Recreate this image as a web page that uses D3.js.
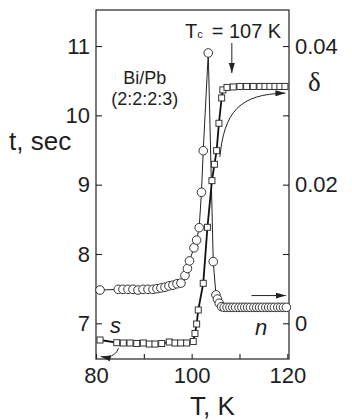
<!DOCTYPE html>
<html>
<head>
<meta charset="utf-8">
<script src="https://cdn.jsdelivr.net/npm/d3@7"></script>
<style>
  html, body { margin: 0; padding: 0; background: #fff; }
  svg text { font-family: "Liberation Sans", Arial, sans-serif; fill: #1e1e1e; }
</style>
</head>
<body>
<div id="chart"></div>
<script>
// circles: relaxation time t (left axis)
const circleTemps = [80.84, 84.66, 85.64, 86.69, 87.73, 88.78, 89.82, 90.87, 91.91, 92.75, 93.58, 94.42, 95.26, 96.09, 96.93, 97.76,
  98.60, 99.12, 99.54, 100.48, 101.04, 101.57, 102.05, 102.42, 103.47, 104.51, 105.08, 105.39, 105.77, 106.27,
  106.8, 107.4, 108.0, 108.6, 109.2, 109.9, 110.5, 111.1, 111.7, 112.3, 113.0, 113.6, 114.2, 114.8, 115.5, 116.1, 116.7, 117.3, 118.0, 118.6, 119.2, 119.8];
const circleTimes = [7.48, 7.49, 7.49, 7.49, 7.49, 7.48, 7.49, 7.49, 7.49, 7.50, 7.51, 7.52, 7.54, 7.55, 7.57, 7.58,
  7.69, 7.79, 7.90, 8.09, 8.20, 8.38, 8.89, 9.49, 10.90, 7.89, 7.41, 7.35, 7.29, 7.24,
  7.23, 7.23, 7.23, 7.23, 7.23, 7.23, 7.23, 7.23, 7.23, 7.23, 7.23, 7.23, 7.23, 7.23, 7.23, 7.23, 7.23, 7.23, 7.23, 7.23, 7.23, 7.23];

// squares: delta (right axis)
const squareTemps = [80.84, 84.33, 85.71, 87.11, 88.51, 89.89, 91.14, 92.33, 93.73, 95.32, 96.51, 97.70, 98.96, 100.33,
  100.69, 101.04, 101.38, 102.42, 103.30, 104.24, 104.76, 105.22, 105.70, 106.27, 106.52, 107.38,
  108.69, 110.09, 111.49, 112.87, 114.27, 115.32, 116.36, 117.41, 118.45, 119.50];
const squareDeltas = [-0.00241, -0.00280, -0.00284, -0.00284, -0.00291, -0.00284, -0.00299, -0.00299, -0.00291, -0.00270, -0.00284, -0.00284, -0.00284, -0.00263,
  -0.00147, -0.00010, 0.00192, 0.00577, 0.01385, 0.02058, 0.02294, 0.02491, 0.02886, 0.03251, 0.03367, 0.03403,
  0.03410, 0.03417, 0.03417, 0.03417, 0.03417, 0.03417, 0.03417, 0.03417, 0.03417, 0.03417];

const xTicks = [80, 90, 100, 110, 120];
const xLabels = [80, 100, 120];
const tTicks = [7, 8, 9, 10, 11];
const deltaTicks = [0, 0.01, 0.02, 0.03, 0.04];
const deltaLabels = [0, 0.02, 0.04];
const sampleLines = ['Bi/Pb', '(2:2:2:3)'];

const width = 352, height = 420;
const margin = { top: 10, right: 63, bottom: 61, left: 96 };
const innerW = width - margin.left - margin.right;
const innerH = height - margin.top - margin.bottom;

const svg = d3.select('#chart').append('svg')
  .attr('width', width)
  .attr('height', height);

const x = d3.scaleLinear().domain([80, 120.35]).range([margin.left, margin.left + innerW]);
const yT = d3.scaleLinear().domain([6.485, 11.52]).range([margin.top + innerH, margin.top]);
const yD = d3.scaleLinear().domain([-0.00515, 0.0452]).range([margin.top + innerH, margin.top]);

// arrow heads
const defs = svg.append('defs');
defs.append('marker')
  .attr('id', 'arrow')
  .attr('viewBox', '0 0 10 6')
  .attr('refX', 10).attr('refY', 3)
  .attr('markerWidth', 10).attr('markerHeight', 6)
  .attr('markerUnits', 'userSpaceOnUse')
  .attr('orient', 'auto')
  .append('path')
  .attr('d', 'M0,0 L10,3 L0,6 Z')
  .attr('fill', '#222');

// axes, ticks pointing inward
const leftAxis = svg.append('g')
  .attr('transform', `translate(${margin.left},0)`)
  .call(d3.axisLeft(yT).tickValues(tTicks).tickSize(-6).tickPadding(6).tickFormat(d3.format('d')));

const rightAxis = svg.append('g')
  .attr('transform', `translate(${margin.left + innerW},0)`)
  .call(d3.axisRight(yD).tickValues(deltaTicks).tickSize(-6).tickPadding(6)
    .tickFormat(d => deltaLabels.some(v => Math.abs(v - d) < 1e-9) ? (d === 0 ? '0' : d.toFixed(2)) : ''));

const bottomAxis = svg.append('g')
  .attr('transform', `translate(0,${margin.top + innerH})`)
  .call(d3.axisBottom(x).tickValues(xTicks).tickSize(-5).tickPadding(8)
    .tickFormat(d => xLabels.includes(d) ? d : ''));

[leftAxis, rightAxis, bottomAxis].forEach(g => {
  g.select('.domain').remove();
  g.selectAll('line').attr('stroke', '#222').attr('stroke-width', 1.1);
  g.selectAll('text').style('font-size', '22px').attr('fill', '#1e1e1e');
});

// frame
svg.append('rect')
  .attr('x', margin.left).attr('y', margin.top)
  .attr('width', innerW).attr('height', innerH)
  .attr('fill', 'none')
  .attr('stroke', '#222')
  .attr('stroke-width', 1.2);

const circles = circleTemps.map((T, i) => ({ T, v: circleTimes[i] }));
const squares = squareTemps.map((T, i) => ({ T, v: squareDeltas[i] }));

// connecting lines
svg.append('path')
  .datum(circles)
  .attr('fill', 'none')
  .attr('stroke', '#222')
  .attr('stroke-width', 1)
  .attr('d', d3.line().x(d => x(d.T)).y(d => yT(d.v)));

svg.append('path')
  .datum(squares)
  .attr('fill', 'none')
  .attr('stroke', '#111')
  .attr('stroke-width', 1.8)
  .attr('d', d3.line().x(d => x(d.T)).y(d => yD(d.v)));

// markers
svg.append('g').selectAll('circle')
  .data(circles)
  .join('circle')
  .attr('cx', d => x(d.T))
  .attr('cy', d => yT(d.v))
  .attr('r', 4.3)
  .attr('fill', '#fff')
  .attr('stroke', '#333')
  .attr('stroke-width', 1);

const sq = 6;
svg.append('g').selectAll('rect')
  .data(squares)
  .join('rect')
  .attr('x', d => x(d.T) - sq / 2)
  .attr('y', d => yD(d.v) - sq / 2)
  .attr('width', sq).attr('height', sq)
  .attr('fill', '#fff')
  .attr('stroke', '#333')
  .attr('stroke-width', 1);

// annotations
const tc = svg.append('text').attr('x', x(98.6)).attr('y', 38).style('font-size', '20px');
tc.append('tspan').text('T');
tc.append('tspan').style('font-size', '11px').text('c');
tc.append('tspan').attr('dx', 9).text('= 107 K');

svg.append('line')
  .attr('x1', x(108.4)).attr('x2', x(108.4))
  .attr('y1', 43).attr('y2', 73)
  .attr('stroke', '#222').attr('stroke-width', 1)
  .attr('marker-end', 'url(#arrow)');

// sample label, two lines
sampleLines.forEach((line, i) => {
  svg.append('text')
    .attr('x', x(90.2)).attr('y', 84 + i * 21)
    .attr('text-anchor', 'middle')
    .style('font-size', '18px')
    .text(line);
});

// curved arrow toward right axis
svg.append('path')
  .attr('d', `M${x(105.9)},${yD(0.0240)} C${x(106.8)},${yD(0.0305)} ${x(110)},${yD(0.0331)} ${x(119.6)},${yD(0.0332)}`)
  .attr('fill', 'none').attr('stroke', '#222').attr('stroke-width', 1)
  .attr('marker-end', 'url(#arrow)');

// straight arrow at right
svg.append('line')
  .attr('x1', x(112.5)).attr('x2', x(119.7))
  .attr('y1', yT(7.40)).attr('y2', yT(7.40))
  .attr('stroke', '#222').attr('stroke-width', 1)
  .attr('marker-end', 'url(#arrow)');

// curved arrow toward left axis
svg.append('path')
  .attr('d', `M${x(84.7)},${yD(-0.0036)} C${x(84.2)},${yD(-0.0047)} ${x(82.5)},${yD(-0.0050)} ${x(81.0)},${yD(-0.0048)}`)
  .attr('fill', 'none').attr('stroke', '#222').attr('stroke-width', 1)
  .attr('marker-end', 'url(#arrow)');

svg.append('text').attr('x', 110).attr('y', 333)
  .style('font-size', '22px').style('font-style', 'italic').text('s');
svg.append('text').attr('x', 255).attr('y', 335)
  .style('font-size', '22px').style('font-style', 'italic').text('n');

// axis titles
svg.append('text').attr('x', 9).attr('y', 150).style('font-size', '26px').text('t, sec');
svg.append('text').attr('x', 190).attr('y', 415).style('font-size', '26px').text('T, K');
svg.append('text').attr('x', 308).attr('y', 91)
  .style('font-size', '27px').style('font-family', '"Liberation Serif", "Times New Roman", serif').text('δ');
</script>
</body>
</html>
